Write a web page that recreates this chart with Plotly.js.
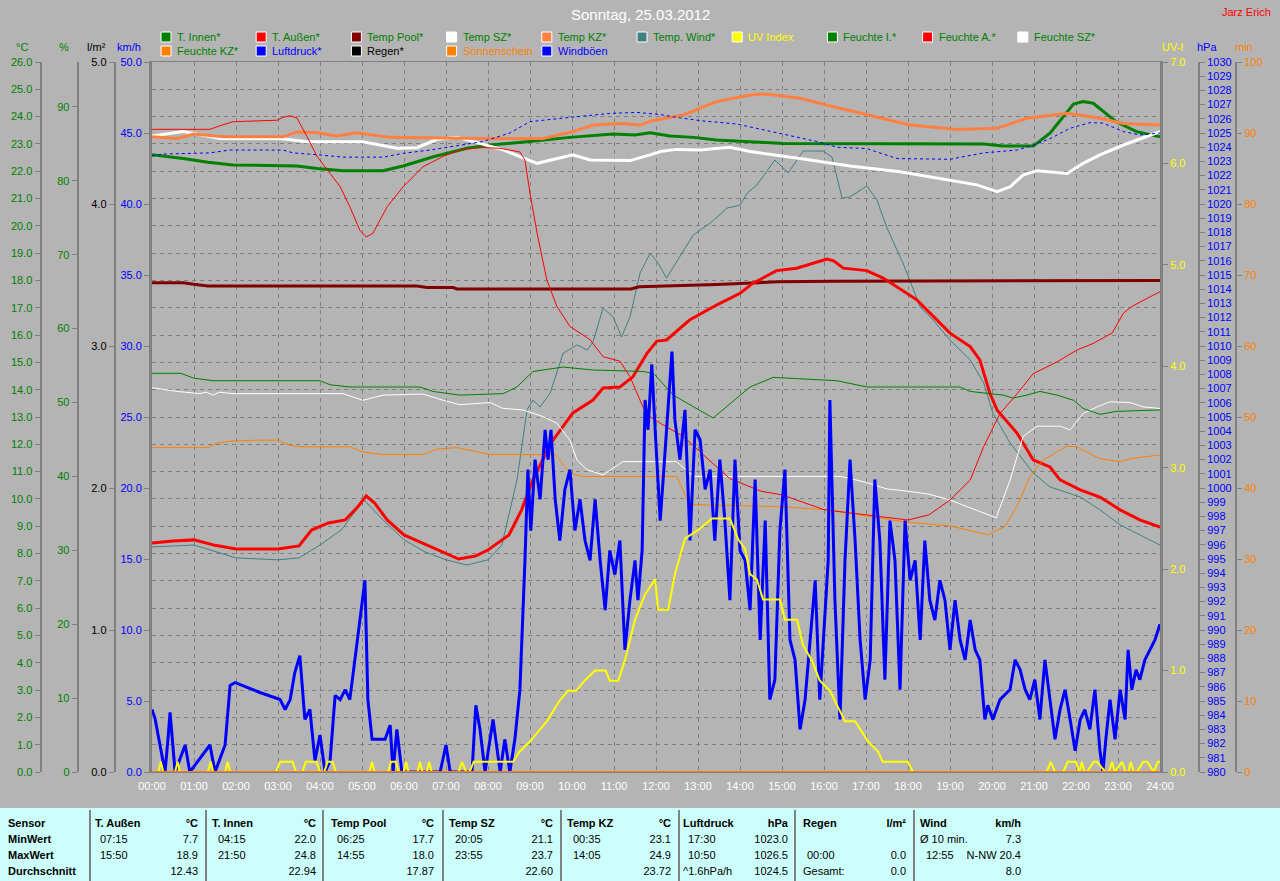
<!DOCTYPE html>
<html><head><meta charset="utf-8">
<script src="https://cdn.plot.ly/plotly-3.0.1.min.js"></script>
<style>
body{margin:0;background:#b4b4b4;overflow:hidden;}
#chart{position:absolute;left:0;top:0;width:1280px;height:881px;}
#tbl{position:absolute;left:0;top:808px;width:1280px;height:73px;background:#ccfffc;font-family:"Liberation Sans",Arial,sans-serif;font-size:11px;color:#000;}
.c{position:absolute;white-space:nowrap;line-height:13px;}
.b{font-weight:bold;}
.sep{position:absolute;top:2px;bottom:0;width:2px;background:#808080;}
</style></head>
<body>
<div id="chart"></div>
<div id="tbl"></div>
<script>
// ---------- data ----------
const hourTicks = [0,1,2,3,4,5,6,7,8,9,10,11,12,13,14,15,16,17,18,19,20,21,22,23,24];
const hourLabels = ["00:00","01:00","02:00","03:00","04:00","05:00","06:00","07:00","08:00","09:00","10:00","11:00","12:00","13:00","14:00","15:00","16:00","17:00","18:00","19:00","20:00","21:00","22:00","23:00","24:00"];

const tInnenT = [0,0.74,1.33,1.93,3.45,3.93,4.55,5.5,5.98,6.7,7.5,8.05,8.93,9.95,10.98,11.5,11.86,12.33,12.89,13.44,15.03,19.8,20.27,20.98,21.38,21.94,22.17,22.41,22.96,23.44,24];
const tInnenV = [22.6,22.47,22.33,22.23,22.19,22.1,22.02,22.02,22.19,22.53,22.84,22.96,23.08,23.24,23.36,23.33,23.41,23.29,23.24,23.14,23.02,23.0,22.92,22.92,23.39,24.46,24.55,24.49,23.81,23.45,23.26];

const tAussenT = [0,0.5,1,1.5,2,3,3.5,3.8,4.2,4.6,4.9,5.1,5.3,5.6,6,6.5,7,7.3,7.7,8,8.5,8.8,9.07,9.5,10.02,10.5,10.74,11.14,11.45,11.79,12.02,12.25,12.8,13.44,14.0,14.31,14.87,15.35,16.07,16.23,16.46,17.02,17.42,18.21,19.0,19.48,19.71,19.95,20.12,20.6,20.98,21.38,21.62,22.1,22.57,23.05,23.52,24];
const tAussenV = [8.39,8.46,8.5,8.3,8.17,8.17,8.28,8.86,9.12,9.23,9.71,10.11,9.85,9.23,8.68,8.35,8.02,7.8,7.91,8.13,8.68,9.6,10.7,12.05,13.15,13.62,14.06,14.1,14.47,15.34,15.78,15.82,16.55,17.1,17.53,17.9,18.36,18.45,18.78,18.72,18.45,18.36,18.08,17.29,16.07,15.58,15.09,13.87,13.26,12.4,11.43,11.17,10.7,10.33,10.07,9.6,9.23,8.97];

const poolT = [0,0.74,0.99,1.33,6.31,6.55,7.17,7.26,11.4,11.6,13.44,14.9,16.23,24];
const poolV = [17.92,17.92,17.86,17.8,17.8,17.74,17.74,17.69,17.69,17.77,17.85,17.95,17.97,18.0];

const szT = [0,0.74,1.62,3.05,3.69,5.02,5.83,6.31,6.79,7.26,7.57,8.36,9.17,10.02,10.43,11.38,11.86,12.1,12.49,13.05,13.76,14.24,15.43,16.62,17.81,19.0,19.64,20.12,20.43,20.74,21.07,21.79,22.17,22.57,23.13,24];
const szV = [23.29,23.45,23.2,23.2,23.08,23.08,22.84,22.86,23.17,23.24,23.12,22.78,22.29,22.6,22.41,22.39,22.6,22.72,22.8,22.78,22.88,22.72,22.47,22.19,21.98,21.65,21.5,21.25,21.43,21.86,22.02,21.92,22.29,22.6,22.96,23.45];

const kzT = [0,0.6,0.99,1.7,3.12,3.45,3.93,4.4,4.88,5.67,7.88,9.31,10.02,10.5,11.21,11.62,11.9,12.65,13.44,14.24,14.63,15.43,16.23,17.02,18.05,19.17,20.12,20.83,21.79,22.57,23.13,24];
const kzV = [23.26,23.2,23.36,23.26,23.26,23.44,23.41,23.29,23.41,23.24,23.2,23.2,23.45,23.69,23.75,23.69,23.85,24.06,24.55,24.79,24.83,24.67,24.36,24.06,23.69,23.53,23.57,23.94,24.12,23.94,23.75,23.69];

const windTempT = [0,1,2,3,3.5,4,4.5,5.05,5.5,6,6.5,7,7.5,8,8.33,8.69,8.93,9.07,9.24,9.48,9.79,10.12,10.36,10.5,10.74,10.98,11.18,11.38,11.62,11.86,12.05,12.25,12.89,13.29,13.69,14.0,14.17,14.4,14.83,15.15,15.5,15.98,16.19,16.43,16.62,17.02,17.26,17.5,17.88,18.29,18.6,19.0,19.48,19.8,20.02,20.43,20.98,21.38,22.1,22.57,23.05,23.52,24];
const windTempV = [8.24,8.31,7.84,7.77,7.84,8.31,8.86,9.96,9.23,8.5,8.06,7.77,7.58,7.77,8.31,10.69,13.26,13.62,13.37,13.88,15.34,15.64,15.45,15.75,16.99,16.66,15.93,16.66,18.27,19.0,18.64,18.09,19.67,20.1,20.65,20.76,21.2,21.49,22.41,21.94,22.74,22.74,22.52,21.02,21.06,21.46,20.95,19.92,18.64,17.03,16.55,15.82,15.09,14.25,13.15,12.05,10.95,10.44,10.07,9.6,9.05,8.68,8.31];

const feuchteAT = [0,1.38,1.67,1.93,2.98,3.12,3.29,3.45,3.69,3.93,4.24,4.48,4.71,4.95,5.1,5.26,5.6,5.98,6.45,6.93,7.4,7.88,8.29,8.76,8.88,9.0,9.17,9.4,9.64,9.95,10.43,10.74,11.14,11.38,11.69,11.86,12.1,12.65,13.44,13.76,14.5,15.0,16.0,17.0,18.0,18.5,19.0,19.48,19.8,20.19,20.6,20.98,21.55,22.02,22.41,22.86,23.13,23.33,23.69,24];
const feuchteAV = [86.97,86.97,87.55,88.0,88.2,88.6,88.8,88.5,86.0,83.3,81.0,79.2,76.5,73.3,72.4,72.9,76.5,79.2,81.9,83.3,84.3,84.5,84.4,83.9,82.8,78.3,72.9,66.6,63.0,60.3,58.5,56.2,55.6,53.5,49.4,48.1,47.2,45.4,41.3,39.7,38.0,37.5,35.5,34.8,34.1,34.8,36.8,39.5,44.0,48.5,51.2,53.9,55.5,57.1,58.0,59.4,62.1,63.0,64.1,65.0];

const feuchteIT = [0,0.69,0.99,1.45,4.0,4.24,4.71,6.38,6.69,7.33,8.36,8.69,9.07,9.79,10.5,11.7,11.95,12.41,13.36,14.24,14.79,16.31,17.02,19.24,19.48,20.27,20.5,20.83,21.14,21.55,21.94,22.17,22.57,22.96,24];
const feuchteIV = [53.95,53.95,53.3,52.95,52.95,52.4,52.1,52.1,51.5,51.0,51.2,52.1,54.2,54.8,54.4,54.2,53.9,51.0,47.9,52.1,53.4,52.95,52.1,52.1,51.5,51.0,50.6,51.0,51.5,51.0,50.3,49.2,48.4,48.8,49.0];

const feuchteSZT = [0,0.6,1.14,1.3,1.45,1.6,1.93,4.55,5.02,5.5,6.45,6.93,7.33,8.05,8.36,8.83,9.31,9.64,9.95,10.12,10.36,10.74,11.21,12.49,12.89,16.4,17.0,17.5,18.0,18.5,19.0,19.5,20.1,20.43,20.74,21.07,21.62,21.86,22.17,22.5,22.81,23.29,23.6,24];
const feuchteSZV = [52.0,51.5,51.2,51.4,51.0,51.4,51.2,51.2,50.3,51.0,51.15,50.3,49.7,50.0,49.2,49.0,48.1,47.2,44.9,42.2,40.9,40.2,42.0,42.0,40.0,40.0,39.2,38.3,38.0,37.6,36.8,35.7,34.4,39.5,45.4,46.8,46.8,46.3,48.5,49.4,50.1,50.0,49.4,49.2];

const feuchteKZT = [0,1.33,1.55,1.93,2.5,2.98,3.29,3.57,4.71,5.02,5.5,6.45,6.79,7.26,8.05,9.6,9.71,9.95,10.26,12.49,12.8,13.5,15.0,16.0,17.0,18.0,19.0,19.9,20.3,20.6,20.9,21.21,21.79,22.02,22.26,22.57,23.05,23.29,24];
const feuchteKZV = [43.9,43.9,44.5,44.8,44.9,44.9,44.2,44.0,44.0,43.3,42.96,42.96,43.7,43.9,42.96,42.96,42.2,40.4,40.0,40.0,36.2,36.1,35.9,35.5,34.6,33.8,33.3,32.1,33.2,36.0,40.0,42.2,44.1,44.0,43.3,42.4,42.0,42.4,42.9];

const druckT = [0,0.27,1.38,1.86,3.12,3.36,4.0,4.55,5.5,5.98,6.62,7.26,7.88,8.52,9.0,9.95,10.9,11.55,12.1,12.49,13.05,13.93,14.87,15.83,16.31,17.02,17.74,19.0,19.8,20.6,20.98,21.38,21.86,22.33,22.64,23.13,23.52,24];
const druckV = [1023.38,1023.52,1023.6,1023.8,1023.8,1023.6,1023.45,1023.3,1023.3,1023.57,1023.8,1024.08,1024.4,1025.0,1025.8,1026.1,1026.38,1026.45,1026.3,1026.1,1025.87,1025.63,1025.0,1024.4,1024.0,1023.9,1023.2,1023.15,1023.6,1023.8,1024.15,1024.6,1025.33,1025.73,1025.7,1025.1,1024.86,1025.0];

const uvT = [0,0.15,0.21,0.27,0.55,0.61,0.67,1.33,1.4,1.46,1.74,1.8,1.86,2.95,3.05,3.35,3.43,3.58,3.66,3.92,4.0,4.1,4.18,4.3,4.38,5.18,5.24,5.3,5.62,5.69,5.8,5.88,5.99,6.05,6.11,6.32,6.38,6.44,6.54,6.6,6.66,7.3,7.38,7.48,7.56,7.66,7.74,8.6,8.75,9.0,9.2,9.4,9.55,9.7,9.9,10.1,10.3,10.55,10.8,10.9,11.1,11.26,11.5,11.74,11.98,12.05,12.29,12.45,12.69,13.05,13.33,13.76,13.95,14.12,14.24,14.4,14.55,14.95,15.07,15.36,15.5,15.71,15.9,16.14,16.38,16.5,16.74,17.05,17.29,17.4,18.0,18.12,21.3,21.4,21.5,21.7,21.8,22.0,22.08,22.14,22.2,22.26,22.42,22.5,22.7,22.78,22.86,22.92,23.1,23.18,23.25,23.3,23.38,23.45,23.6,23.7,23.85,23.95,24];
const uvV = [0,0,0.1,0,0,0.1,0,0,0.1,0,0,0.1,0,0,0.1,0.1,0,0,0.1,0.1,0,0,0.1,0.1,0,0,0.1,0,0,0.1,0.1,0,0,0.1,0,0,0.1,0,0,0.1,0,0,0.1,0,0,0.1,0.1,0.1,0.2,0.3,0.4,0.5,0.6,0.7,0.8,0.8,0.9,1.0,1.0,0.9,0.9,1.1,1.5,1.75,1.9,1.6,1.6,1.95,2.3,2.4,2.5,2.5,2.3,2.2,1.95,1.9,1.7,1.7,1.5,1.5,1.25,1.1,0.9,0.8,0.6,0.5,0.5,0.3,0.2,0.1,0.1,0,0,0.1,0,0,0.1,0.1,0,0.1,0,0,0.1,0.1,0,0,0.1,0,0.1,0,0,0.1,0,0,0.1,0.1,0,0.1,0.1];

const windT = [0,0.07,0.19,0.31,0.38,0.43,0.55,0.79,0.9,1.38,1.5,1.74,1.86,1.98,2.57,3.05,3.17,3.29,3.4,3.52,3.64,3.76,3.88,4.0,4.12,4.24,4.36,4.48,4.6,4.71,4.83,4.95,5.07,5.14,5.24,5.55,5.67,5.74,5.83,5.95,6.86,7.0,7.1,7.62,7.71,7.81,7.93,8.12,8.29,8.4,8.52,8.64,8.76,8.88,8.95,9.02,9.12,9.24,9.36,9.43,9.5,9.6,9.71,9.83,9.95,10.07,10.19,10.31,10.43,10.55,10.67,10.79,10.9,11.02,11.14,11.26,11.38,11.5,11.57,11.67,11.74,11.81,11.9,11.98,12.1,12.17,12.29,12.38,12.45,12.57,12.69,12.81,12.93,13.05,13.17,13.29,13.4,13.52,13.64,13.76,13.88,14.0,14.12,14.24,14.36,14.48,14.6,14.71,14.83,14.95,15.07,15.19,15.31,15.43,15.55,15.67,15.79,15.9,16.02,16.1,16.14,16.26,16.38,16.5,16.62,16.74,16.86,16.98,17.1,17.21,17.33,17.45,17.57,17.69,17.81,17.93,18.05,18.17,18.29,18.4,18.52,18.64,18.76,18.88,19.0,19.12,19.24,19.36,19.48,19.6,19.71,19.83,19.9,20.02,20.19,20.43,20.55,20.67,20.79,20.9,21.02,21.14,21.26,21.38,21.5,21.62,21.74,21.86,21.98,22.1,22.21,22.33,22.45,22.57,22.64,22.71,22.81,22.93,23.05,23.17,23.24,23.33,23.43,23.52,23.64,23.76,23.88,24];
const windV = [4.4,3.8,1.9,0,2.3,4.2,0,1.9,0,1.9,0,1.9,6.1,6.3,5.6,5.1,4.4,5.1,7.0,8.2,3.7,4.4,0.8,2.6,0,0.8,5.4,5.1,5.8,5.1,7.9,10.7,13.5,5.1,2.3,2.3,3.3,0,3.0,0,0,1.9,0,0,4.7,3.0,0,3.7,0,2.3,0,2.3,5.8,14.9,21.3,17.0,22.0,19.2,24.1,22.0,24.1,19.2,16.3,19.9,21.3,17.0,19.2,16.3,14.9,19.2,14.9,11.4,15.6,13.9,16.3,8.6,12.1,14.9,12.1,15.6,26.2,24.1,28.7,24.1,17.7,20.6,26.2,29.6,24.8,22.0,25.5,16.3,24.1,23.4,19.9,21.3,16.3,22.0,17.7,12.1,22.0,15.6,14.9,11.4,20.6,9.3,17.7,5.1,6.5,17.0,21.3,9.3,7.9,3.0,5.1,9.3,13.5,5.1,11.4,14.9,26.2,12.1,3.7,14.9,22.0,16.3,9.3,5.1,7.9,20.6,16.3,6.5,17.7,14.9,5.8,17.7,13.5,14.9,9.3,16.3,12.1,10.7,13.5,12.1,8.6,12.1,9.3,7.9,10.7,8.6,7.9,3.7,4.7,3.7,5.1,5.8,7.9,7.2,5.8,5.1,6.5,3.7,7.9,5.1,2.3,4.4,5.8,3.7,1.5,3.7,4.4,3.0,5.8,1.5,0,2.3,5.1,2.3,5.8,3.7,8.6,5.8,7.2,6.5,7.9,8.6,9.3,10.4];

const regenT = [0,24];
const regenV = [0,0];
const sonneT = [0,24];
const sonneV = [0,0];

// legend
const legRow1 = ["T. Innen*","T. Außen*","Temp Pool*","Temp SZ*","Temp KZ*","Temp. Wind*","UV Index","Feuchte I.*","Feuchte A.*","Feuchte SZ*"];
const legRow1Box = ["#008000","#ff0000","#800000","#ffffff","#ff8040","#408080","#ffff00","#008000","#ff0000","#ffffff"];
const legRow1Txt = ["#008000","#008000","#008000","#008000","#008000","#008000","#ffff00","#008000","#008000","#008000"];
const legRow2 = ["Feuchte KZ*","Luftdruck*","Regen*","Sonnenschein","Windböen"];
const legRow2Box = ["#ff8000","#0000ff","#000000","#ff8000","#0000ff"];
const legRow2Txt = ["#008000","#0000ff","#000000","#ff8000","#0000ff"];

// table
const tblNames = ["T. Außen","T. Innen","Temp Pool","Temp SZ","Temp KZ","Luftdruck","Regen","Wind"];
const tblUnits = ["°C","°C","°C","°C","°C","hPa","l/m²","km/h"];
const tblMinL = ["07:15","04:15","06:25","20:05","00:35","17:30","","Ø 10 min."];
const tblMinV = ["7.7","22.0","17.7","21.1","23.1","1023.0","","7.3"];
const tblMaxL = ["15:50","21:50","14:55","23:55","14:05","10:50","00:00","12:55"];
const tblMaxV = ["18.9","24.8","18.0","23.7","24.9","1026.5","0.0","N-NW 20.4"];
const tblAvgL = ["","","","","","^1.6hPa/h","Gesamt:",""];
const tblAvgV = ["12.43","22.94","17.87","22.60","23.72","1024.5","0.0","8.0"];
const tblRowLabels = ["Sensor","MinWert","MaxWert","Durchschnitt"];

// ---------- layout helpers ----------
const W = 1280, H = 881;
const px = x => x / W, py = y => 1 - y / H;
const F = '"Liberation Sans", Arial, sans-serif';
const GRID = '#808080';
const GDASH = '4px,4px';
const XD = [px(152), px(1160)], YD = [py(772), py(62)];

function line(t, v, yax, color, width, dash, name) {
  return {x: t, y: v, yaxis: yax, type: 'scatter', mode: 'lines', name: name,
          line: {color: color, width: width, dash: dash || 'solid'}, hoverinfo: 'skip'};
}

const traces = [
  line(feuchteKZT, feuchteKZV, 'y3', '#ff8000', 1, null, 'Feuchte KZ*'),
  line(feuchteSZT, feuchteSZV, 'y3', '#ffffff', 1, null, 'Feuchte SZ*'),
  line(feuchteIT, feuchteIV, 'y3', '#008000', 1, null, 'Feuchte I.*'),
  line(feuchteAT, feuchteAV, 'y3', '#ff0000', 1, null, 'Feuchte A.*'),
  line(windTempT, windTempV, 'y', '#408080', 1, null, 'Temp. Wind*'),
  line(poolT, poolV, 'y', '#800000', 3, null, 'Temp Pool*'),
  line(tInnenT, tInnenV, 'y', '#008000', 3, null, 'T. Innen*'),
  line(szT, szV, 'y', '#ffffff', 3, null, 'Temp SZ*'),
  line(kzT, kzV, 'y', '#ff8040', 3, null, 'Temp KZ*'),
  line(druckT, druckV, 'y7', '#0000ff', 1, 'dot', 'Luftdruck*'),
  line(windT, windV, 'y5', '#0000ff', 3, null, 'Windböen'),
  line(tAussenT, tAussenV, 'y', '#ff0000', 3, null, 'T. Außen*'),
  line(uvT, uvV, 'y6', '#ffff00', 2, null, 'UV Index'),
  line(sonneT, sonneV, 'y8', '#ff8000', 2, null, 'Sonnenschein'),
  line(regenT, regenV, 'y4', '#000000', 2, null, 'Regen*')
];

function yax(extra) {
  return Object.assign({
    domain: YD, overlaying: 'y', anchor: 'free', showgrid: false, zeroline: false,
    showline: true, linecolor: GRID, linewidth: 2, ticks: 'outside', ticklen: 5,
    tickcolor: GRID, tickwidth: 1, fixedrange: true
  }, extra);
}

const annotations = [];
const shapes = [];
function txt(x, y, s, color, size, anchor, bold) {
  annotations.push({xref: 'paper', yref: 'paper', x: px(x), y: py(y), text: bold ? '<b>' + s + '</b>' : s,
    showarrow: false, xanchor: anchor || 'left', yanchor: 'middle',
    font: {family: F, size: size || 11, color: color}});
}
txt(640, 15, 'Sonntag, 25.03.2012', '#ffffff', 15, 'center');
txt(1273, 12, 'Jarz Erich', '#ff0000', 11, 'right');
txt(22, 47, '°C', '#008000', 11, 'center');
txt(64, 47, '%', '#008000', 11, 'center');
txt(96, 47, 'l/m²', '#000000', 11, 'center');
txt(129, 47, 'km/h', '#0000ff', 11, 'center');
txt(1172, 47, 'UV-I', '#ffff00', 11, 'center');
txt(1207, 47, 'hPa', '#0000ff', 11, 'center');
txt(1244, 47, 'min', '#ff8000', 11, 'center');

function legendRow(names, boxes, colors, yc) {
  names.forEach((n, i) => {
    const bx = 161 + 95.2 * i;
    shapes.push({type: 'rect', xref: 'paper', yref: 'paper', x0: px(bx), x1: px(bx + 10),
      y0: py(yc + 5), y1: py(yc - 5), fillcolor: boxes[i], line: {color: '#ffffff', width: 1}});
    txt(bx + 14, yc, n, colors[i], 11, 'left');
  });
}
legendRow(legRow1, legRow1Box, legRow1Txt, 37);
legendRow(legRow2, legRow2Box, legRow2Txt, 51);

const layout = {
  width: W, height: H, margin: {l: 0, r: 0, t: 0, b: 0},
  paper_bgcolor: '#b4b4b4', plot_bgcolor: '#b4b4b4', showlegend: false,
  font: {family: F, size: 11},
  xaxis: {domain: XD, range: [0, 24], tickvals: hourTicks, ticktext: hourLabels,
    showgrid: true, gridcolor: GRID, griddash: GDASH, gridwidth: 1,
    showline: true, mirror: true, linecolor: GRID, linewidth: 1, ticks: '', zeroline: false,
    tickfont: {family: F, size: 11, color: '#ffffff'}, fixedrange: true, ticklabelstandoff: 4},
  yaxis: {domain: YD, range: [0, 26], dtick: 1, tick0: 0, showgrid: true, gridcolor: GRID,
    griddash: GDASH, gridwidth: 1, showticklabels: false, ticks: '', zeroline: false,
    showline: false, fixedrange: true},
  yaxis2: yax({position: px(40.5), side: 'left', range: [0, 26], dtick: 1, tick0: 0, tickformat: '.1f',
    tickfont: {family: F, size: 11, color: '#008000'}}),
  yaxis3: yax({position: px(77.7), side: 'left', range: [0, 96.08], dtick: 10, tick0: 0, tickformat: 'd',
    tickfont: {family: F, size: 11, color: '#008000'}}),
  yaxis4: yax({position: px(114.7), side: 'left', range: [0, 5], dtick: 1, tick0: 0, tickformat: '.1f',
    tickfont: {family: F, size: 11, color: '#000000'}}),
  yaxis5: yax({anchor: 'x', side: 'left', range: [0, 50], dtick: 5, tick0: 0, tickformat: '.1f', linewidth: 3,
    tickfont: {family: F, size: 11, color: '#0000ff'}}),
  yaxis6: yax({anchor: 'x', side: 'right', range: [0, 7], dtick: 1, tick0: 0, tickformat: '.1f', linewidth: 3,
    tickfont: {family: F, size: 11, color: '#ffff00'}}),
  yaxis7: yax({position: px(1199), side: 'right', range: [980, 1030], dtick: 1, tick0: 980, tickformat: 'd',
    tickfont: {family: F, size: 11, color: '#0000ff'}}),
  yaxis8: yax({position: px(1236), side: 'right', range: [0, 100], dtick: 10, tick0: 0, tickformat: 'd',
    tickfont: {family: F, size: 11, color: '#ff8000'}}),
  annotations: annotations, shapes: shapes
};

// empty helper trace so the separate °C scale axis is drawn
traces.unshift({x: [0], y: [0], yaxis: 'y2', type: 'scatter', mode: 'lines',
  line: {width: 0}, hoverinfo: 'skip', showlegend: false});

Plotly.newPlot('chart', traces, layout, {displayModeBar: false, staticPlot: true});

// ---------- table ----------
const tbl = document.getElementById('tbl');
function cell(x, row, s, bold, right) {
  const d = document.createElement('div');
  d.className = 'c' + (bold ? ' b' : '');
  d.textContent = s;
  d.style.top = (8.5 + row * 16) + 'px';
  if (right) { d.style.right = (1280 - x) + 'px'; } else { d.style.left = x + 'px'; }
  tbl.appendChild(d);
}
tblRowLabels.forEach((s, r) => cell(8, r, s, true));
const sepX = [89, 205, 322, 442, 560, 678, 794, 913];
const headX = [95, 212, 331, 449, 567, 683, 803, 920];
const timeX = [100, 218, 337, 455, 573, 688, 807, 926];
const rightX = [198, 316, 434, 553, 671, 788, 906, 1021];
tblNames.forEach((n, i) => {
  const s = document.createElement('div'); s.className = 'sep'; s.style.left = sepX[i] + 'px'; tbl.appendChild(s);
  cell(headX[i], 0, n, true);
  cell(rightX[i], 0, tblUnits[i], true, true);
  cell(i === 7 ? headX[i] : timeX[i], 1, tblMinL[i]);
  cell(rightX[i], 1, tblMinV[i], false, true);
  cell(timeX[i], 2, tblMaxL[i]);
  cell(rightX[i], 2, tblMaxV[i], false, true);
  cell(i >= 5 ? headX[i] : timeX[i], 3, tblAvgL[i]);
  cell(rightX[i], 3, tblAvgV[i], false, true);
});
</script>
</body></html>
